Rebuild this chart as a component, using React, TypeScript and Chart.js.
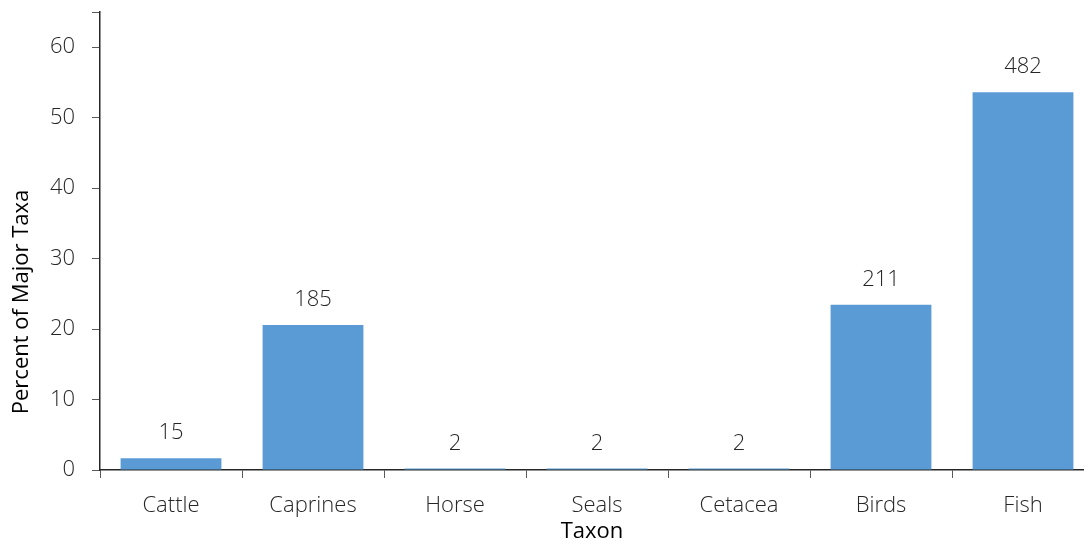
import React, { useEffect, useRef } from "react";
import { Chart, registerables } from "chart.js";

Chart.register(...registerables);

const categories = ["Cattle", "Caprines", "Horse", "Seals", "Cetacea", "Birds", "Fish"];
const counts = [15, 185, 2, 2, 2, 211, 482];
const percents = [1.67, 20.58, 0.22, 0.22, 0.22, 23.47, 53.62];
const yTitle = "Percent of Major Taxa";
const xTitle = "Taxon";

const FAMILY = "'Open Sans', 'Segoe UI', sans-serif";
const LIGHT = `300 22px ${FAMILY}`;
const REG = `500 22px ${FAMILY}`;

const labelPlugin = {
  id: "barLabels",
  afterDatasetsDraw(chart: any) {
    const ctx = chart.ctx;
    const meta = chart.getDatasetMeta(0);
    ctx.save();
    ctx.font = LIGHT;
    ctx.fillStyle = "#262626";
    ctx.textAlign = "center";
    ctx.textBaseline = "middle";
    meta.data.forEach((bar: any, i: number) => {
      ctx.fillText(String(counts[i]), bar.x, bar.y - 25);
    });
    ctx.restore();
  },
};

const titlePlugin = {
  id: "axisTitles",
  afterDraw(chart: any) {
    const ctx = chart.ctx;
    ctx.save();
    ctx.font = REG;
    ctx.fillStyle = "#000000";
    ctx.textAlign = "center";
    ctx.textBaseline = "middle";
    ctx.fillText(xTitle, 592, 532);
    ctx.translate(22, 302);
    ctx.rotate(-Math.PI / 2);
    ctx.fillText(yTitle, 0, 0);
    ctx.restore();
  },
};

export default function App() {
  const ref = useRef<HTMLCanvasElement | null>(null);
  useEffect(() => {
    if (!ref.current) return;
    const chart = new Chart(ref.current, {
      type: "bar",
      data: {
        labels: categories,
        datasets: [
          {
            data: percents,
            backgroundColor: "#5B9BD5",
            barPercentage: 0.71,
            categoryPercentage: 1,
          },
        ],
      },
      options: {
        responsive: false,
        animation: false,
        layout: { padding: { top: 12, left: 0, right: 0, bottom: 0 } },
        plugins: { legend: { display: false }, tooltip: { enabled: false } },
        scales: {
          x: {
            grid: { drawOnChartArea: false, color: "#595959", tickLength: 8, offset: true },
            border: { color: "#262626", width: 1.5 },
            ticks: { color: "#262626", font: { family: FAMILY, size: 22, weight: "300" }, padding: 15 },
            afterFit(scale: any) {
              scale.height = 72;
              scale.paddingLeft = 0;
              scale.paddingRight = 0;
            },
          },
          y: {
            min: 0,
            max: 65,
            grid: { drawOnChartArea: false, color: "#595959", tickLength: 8 },
            border: { color: "#262626", width: 1.5 },
            ticks: {
              stepSize: 10,
              color: "#262626",
              font: { family: FAMILY, size: 22, weight: "300" },
              padding: 17,
              callback: (v: any) => (Number(v) % 10 === 0 ? String(v) : ""),
            },
            afterFit(scale: any) {
              scale.width = 100;
              scale.paddingTop = 0;
              scale.paddingBottom = 0;
            },
          },
        },
      },
      plugins: [labelPlugin, titlePlugin],
    });
    return () => chart.destroy();
  }, []);
  return (
    <div style={{ position: "fixed", left: 0, top: 0, width: 1084, height: 542, overflow: "hidden", background: "#fff" }}>
      <canvas ref={ref} width={1094} height={542} style={{ display: "block" }} />
    </div>
  );
}
